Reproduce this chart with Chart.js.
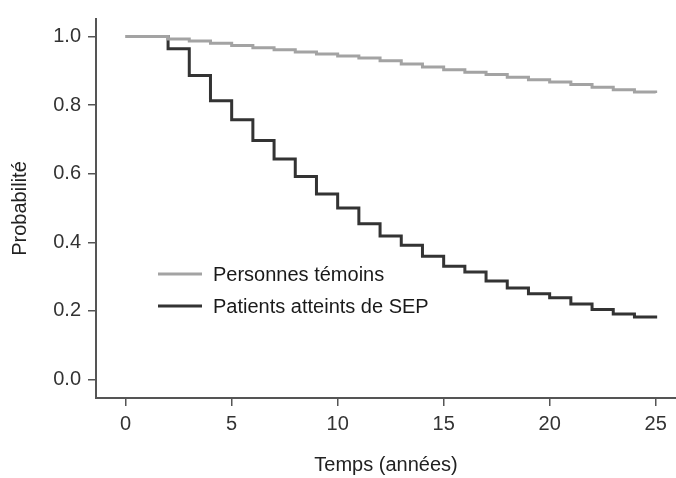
<!DOCTYPE html>
<html>
<head>
<meta charset="utf-8">
<script src="https://cdn.jsdelivr.net/npm/chart.js@4.4.0/dist/chart.umd.min.js"></script>
<style>
  html, body { margin: 0; padding: 0; background: #fff; }
  #wrap { width: 676px; height: 478px; }
</style>
</head>
<body>
<div id="wrap"><canvas id="survie" width="676" height="478"></canvas></div>
<script>
// valeurs
const years = [0, 2, 3, 4, 5, 6, 7, 8, 9, 10, 11, 12, 13, 14, 15, 16, 17, 18, 19, 20, 21, 22, 23, 24, 25];
const temoins = [1.000, 0.993, 0.987, 0.980, 0.974, 0.967, 0.961, 0.955, 0.949, 0.943, 0.937, 0.929, 0.920,
                 0.911, 0.903, 0.896, 0.889, 0.881, 0.874, 0.867, 0.860, 0.852, 0.845, 0.838, 0.835];
const patientsSep = [1.000, 0.964, 0.886, 0.813, 0.757, 0.697, 0.643, 0.592, 0.541, 0.500, 0.454, 0.418, 0.391,
                     0.359, 0.330, 0.313, 0.287, 0.267, 0.250, 0.238, 0.220, 0.204, 0.191, 0.182, 0.178];
const seriesLabels = ['Personnes témoins', 'Patients atteints de SEP'];
const xTicks = [0, 5, 10, 15, 20, 25];
const yTicks = [0.0, 0.2, 0.4, 0.6, 0.8, 1.0];

const FONT = '"Liberation Sans", Arial, sans-serif';

function toPoints(ys) {
    return years.map((t, i) => ({ x: t, y: ys[i] }));
}

// legende dessinee dans la zone du graphique
const insideLegend = {
    id: 'insideLegend',
    afterDraw(chart) {
        const ctx = chart.ctx;
        chart.data.datasets.forEach((ds, i) => {
            const y = 274 + i * 32;
            ctx.save();
            ctx.strokeStyle = ds.borderColor;
            ctx.lineWidth = 3;
            ctx.beginPath();
            ctx.moveTo(158, y);
            ctx.lineTo(202, y);
            ctx.stroke();
            ctx.fillStyle = '#1a1a1a';
            ctx.font = '20px ' + FONT;
            ctx.textBaseline = 'middle';
            ctx.fillText(ds.label, 213, y + 1);
            ctx.restore();
        });
    }
};

const axisColor = '#555';

new Chart(document.getElementById('survie'), {
    type: 'line',
    data: {
        datasets: [{
            label: seriesLabels[0],
            data: toPoints(temoins),
            borderColor: '#a3a3a3',
            borderWidth: 3,
            stepped: 'before',
            pointRadius: 0,
            fill: false
        }, {
            label: seriesLabels[1],
            data: toPoints(patientsSep),
            borderColor: '#333333',
            borderWidth: 3,
            stepped: 'before',
            pointRadius: 0,
            fill: false
        }]
    },
    options: {
        responsive: false,
        animation: false,
        devicePixelRatio: 1,
        layout: { padding: { top: 17, right: 0, bottom: 0, left: 0 } },
        plugins: {
            legend: { display: false },
            tooltip: { enabled: false }
        },
        scales: {
            x: {
                type: 'linear',
                min: -1.40,
                max: 25.96,
                afterBuildTicks: (scale) => { scale.ticks = xTicks.map(v => ({ value: v })); },
                afterFit: (scale) => { scale.height = 80; },
                grid: { drawOnChartArea: false, drawTicks: true, tickLength: 8, color: axisColor, lineWidth: 1.5 },
                border: { display: true, color: axisColor, width: 2 },
                ticks: { color: '#333', font: { family: FONT, size: 20 }, padding: 6, maxRotation: 0 },
                title: { display: true, text: 'Temps (années)', color: '#222', font: { family: FONT, size: 20 }, padding: { top: 0, bottom: 1 } }
            },
            y: {
                type: 'linear',
                min: -0.054,
                max: 1.051,
                afterBuildTicks: (scale) => { scale.ticks = yTicks.map(v => ({ value: v })); },
                afterFit: (scale) => { scale.width = 96; },
                grid: { drawOnChartArea: false, drawTicks: true, tickLength: 8, color: axisColor, lineWidth: 1.5 },
                border: { display: true, color: axisColor, width: 2 },
                ticks: { color: '#333', font: { family: FONT, size: 20 }, padding: 7, callback: (v) => v.toFixed(1) },
                title: { display: true, text: 'Probabilité', color: '#222', font: { family: FONT, size: 20 }, padding: { top: 8, bottom: 0 } }
            }
        }
    },
    plugins: [insideLegend]
});
</script>
</body>
</html>
